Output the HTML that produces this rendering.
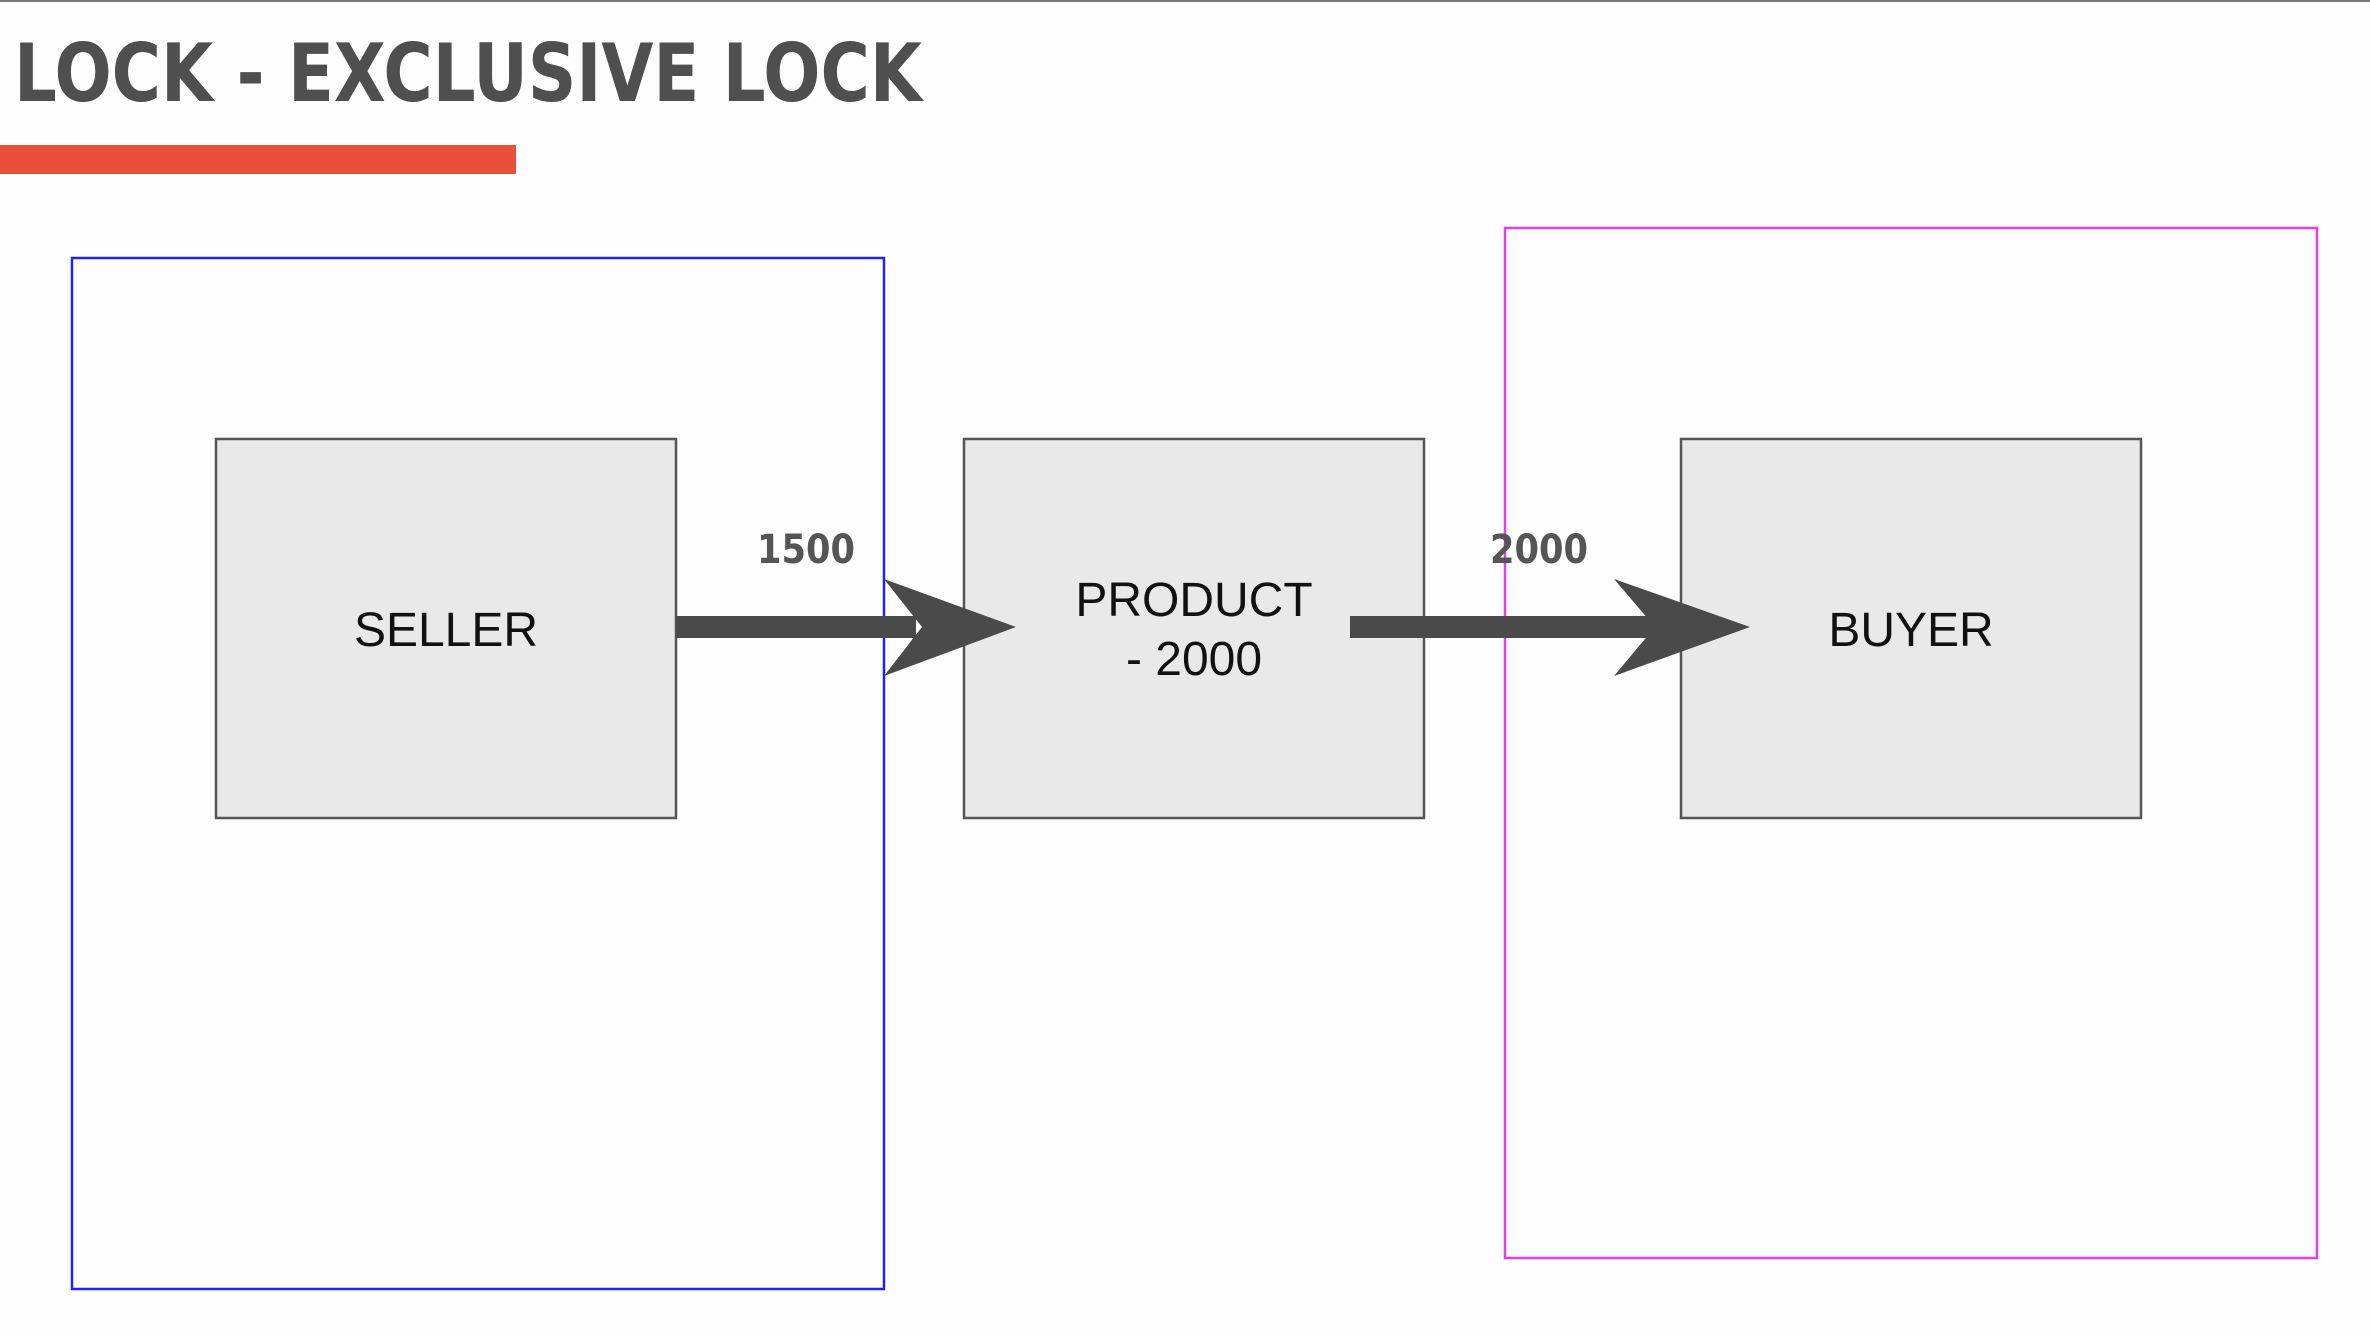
<!DOCTYPE html>
<html><head><meta charset="utf-8"><style>
html,body{margin:0;padding:0;background:#fdfdfd;}
body{width:2370px;height:1336px;overflow:hidden;position:relative;}
</style></head><body>
<svg width="2370" height="1336" viewBox="0 0 2370 1336" xmlns="http://www.w3.org/2000/svg" style="position:absolute;left:0;top:0">
<rect x="0" y="0" width="2370" height="2" fill="#777"/>
<text x="14" y="101" font-family="'DejaVu Sans','Liberation Sans',sans-serif" font-weight="bold" font-size="80" fill="#4f4f4f" textLength="908" lengthAdjust="spacingAndGlyphs">LOCK - EXCLUSIVE LOCK</text>
<rect x="0" y="145" width="516" height="29" fill="#e8503a"/>
<rect x="72" y="258" width="812" height="1031" fill="none" stroke="#2222ee" stroke-width="2.5"/>
<rect x="1505" y="228" width="812" height="1030" fill="none" stroke="#e040e8" stroke-width="2.5"/>
<g fill="#e9e9e9" stroke="#555" stroke-width="2.5">
<rect x="216" y="439" width="460" height="379"/>
<rect x="964" y="439" width="460" height="379"/>
<rect x="1681" y="439" width="460" height="379"/>
</g>
<g font-family="'Liberation Sans',sans-serif" font-size="48" fill="#111" text-anchor="middle">
<text x="446" y="646">SELLER</text>
<text x="1194" y="616">PRODUCT</text>
<text x="1194" y="675">- 2000</text>
<text x="1911" y="646">BUYER</text>
</g>
<g fill="#4a4a4a">
<rect x="676" y="616" width="240" height="22"/>
<polygon points="884,579 1016,627 884,676 922,627"/>
<rect x="1350" y="616" width="310" height="22"/>
<polygon points="1614,579 1750,627 1614,676 1655,627"/>
</g>
<g font-family="'DejaVu Sans','Liberation Sans',sans-serif" font-weight="bold" font-size="40" fill="#555" text-anchor="middle">
<text x="806" y="563" textLength="98" lengthAdjust="spacingAndGlyphs">1500</text>
<text x="1539" y="563" textLength="98" lengthAdjust="spacingAndGlyphs">2000</text>
</g>
</svg>
</body></html>
